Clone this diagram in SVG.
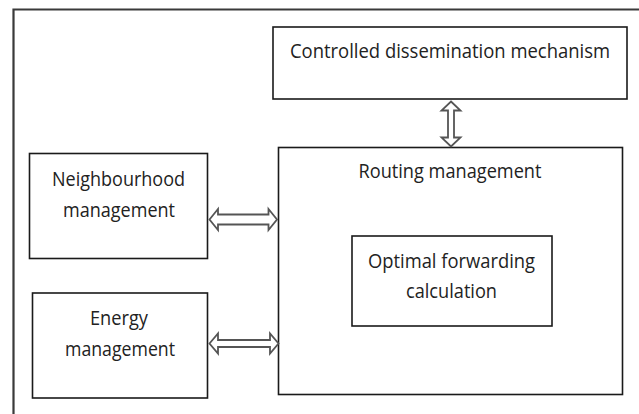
<svg xmlns="http://www.w3.org/2000/svg" width="639" height="414" viewBox="0 0 639 414">
<style>
.box{fill:#fff;stroke:#1a1a1a;stroke-width:1.6}
.t{font-family:"Open Sans","Liberation Sans",sans-serif;font-size:20px;fill:#222;text-anchor:middle}
.arr{fill:#fff;stroke:#555;stroke-width:1.8;stroke-linejoin:miter}
</style>
<rect x="0" y="0" width="639" height="414" fill="#fff"/>
<path d="M13.5,420 V9.5 H645" fill="none" stroke="#3a3a3a" stroke-width="2.2"/>
<g id="controlled">
<rect class="box" x="273" y="27" width="354" height="72"/>
<text class="t" x="450" y="58" textLength="320" lengthAdjust="spacingAndGlyphs">Controlled dissemination mechanism</text>
</g>
<g id="routing">
<rect class="box" x="278.5" y="147.5" width="344" height="247"/>
<text class="t" x="450" y="178" textLength="183" lengthAdjust="spacingAndGlyphs">Routing management</text>
</g>
<g id="optimal">
<rect class="box" x="352" y="236" width="200" height="90"/>
<text class="t" x="451.5" y="268" textLength="167" lengthAdjust="spacingAndGlyphs">Optimal forwarding</text>
<text class="t" x="451.5" y="298" textLength="91" lengthAdjust="spacingAndGlyphs">calculation</text>
</g>
<g id="neighbourhood">
<rect class="box" x="29.5" y="153.5" width="178" height="105"/>
<text class="t" x="118.5" y="186" textLength="133" lengthAdjust="spacingAndGlyphs">Neighbourhood</text>
<text class="t" x="119" y="217" textLength="112" lengthAdjust="spacingAndGlyphs">management</text>
</g>
<g id="energy">
<rect class="box" x="32.5" y="293" width="175" height="105"/>
<text class="t" x="119" y="325" textLength="58" lengthAdjust="spacingAndGlyphs">Energy</text>
<text class="t" x="120" y="356" textLength="110" lengthAdjust="spacingAndGlyphs">management</text>
</g>
<g id="connectors">
<polygon class="arr" points="209.5,219.5 218,209 218,214.5 268.5,214.5 268.5,209 277,219.5 268.5,230 268.5,224.5 218,224.5 218,230"/>
<polygon class="arr" points="209.5,343.5 218,333.5 218,340 270,340 270,333.5 278.5,343.5 270,353.5 270,347 218,347 218,353.5"/>
<polygon class="arr" points="451,101.5 460.5,110.5 454,110.5 454,137.5 460.5,137.5 451,146.5 441.5,137.5 448,137.5 448,110.5 441.5,110.5"/>
</g>
</svg>
